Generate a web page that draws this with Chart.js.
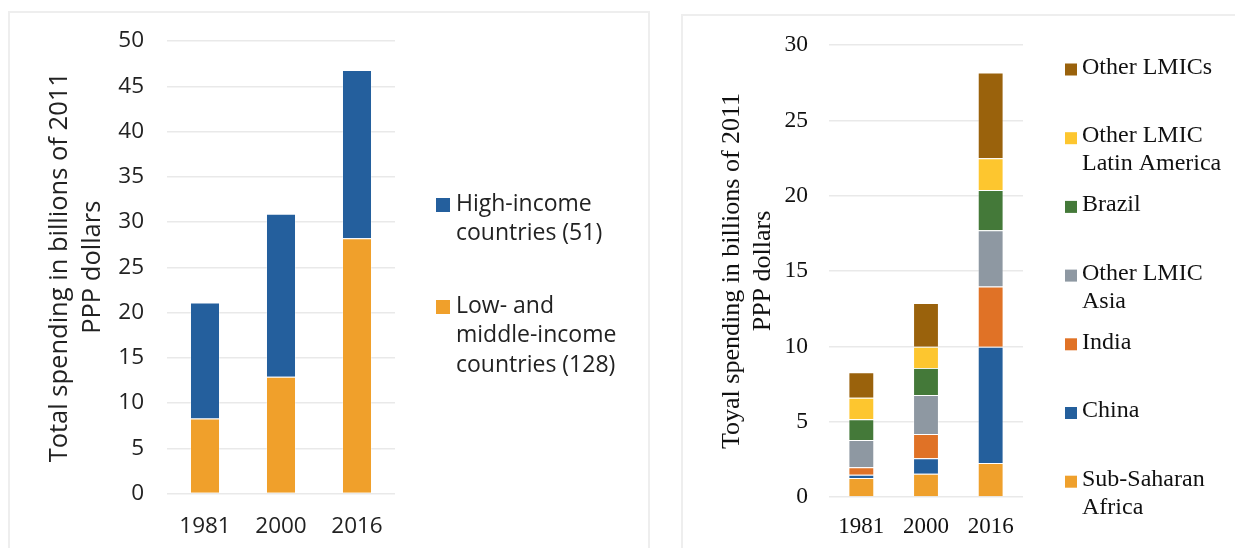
<!DOCTYPE html>
<html>
<head>
<meta charset="utf-8">
<script src="https://cdn.jsdelivr.net/npm/chart.js@4.4.1/dist/chart.umd.min.js"></script>
<style>
  html, body { margin: 0; padding: 0; background: #ffffff; }
  body { width: 1235px; height: 548px; position: relative; overflow: hidden; }
  .panel { position: absolute; border: 2px solid #eeeeee; border-bottom: none; box-sizing: border-box; }
  #panelLeft { left: 8px; top: 11px; width: 642px; height: 560px; }
  #panelRight { left: 681px; top: 14px; width: 600px; height: 560px; }
  canvas { position: absolute; top: 0; }
  #incomeChart { left: 0; }
  #regionChart { left: 680px; }
</style>
</head>
<body>
<div class="panel" id="panelLeft"></div>
<div class="panel" id="panelRight"></div>
<canvas id="incomeChart" width="660" height="548"></canvas>
<canvas id="regionChart" width="555" height="548"></canvas>
<script>
// Survey years shared by both panels
const years = ['1981', '2000', '2016'];

// Left panel: total spending by income group (billions of 2011 PPP dollars)
const lmicTotal = [8.3, 12.9, 28.2];
const highIncome = [12.8, 18.0, 18.6];
const incomeTicks = [0, 5, 10, 15, 20, 25, 30, 35, 40, 45, 50];

// Right panel: spending within low- and middle-income countries
const subSaharanAfrica = [1.26, 1.55, 2.26];
const china = [0.22, 1.02, 7.72];
const india = [0.49, 1.61, 3.99];
const otherAsia = [1.82, 2.59, 3.74];
const brazil = [1.37, 1.80, 2.66];
const otherLatinAmerica = [1.42, 1.41, 2.12];
const otherLmics = [1.70, 2.90, 5.69];
const regionTicks = [0, 5, 10, 15, 20, 25, 30];

// Legend drawn beside the plot: one square per series, newest series on top
const sideLegend = {
  id: 'sideLegend',
  afterDraw(chart, args, opts) {
    const ctx = chart.ctx;
    const items = chart.data.datasets.slice().reverse();
    ctx.save();
    ctx.font = opts.font;
    ctx.textBaseline = 'middle';
    ctx.textAlign = 'left';
    items.forEach((d, i) => {
      const y = opts.rows[i];
      ctx.fillStyle = d.backgroundColor;
      ctx.fillRect(opts.boxX, y - opts.box / 2 + opts.boxShift, opts.box, opts.box);
      ctx.fillStyle = opts.color;
      d.label.split('\n').forEach((line, j) => {
        ctx.fillText(line, opts.textX, y + j * opts.lineHeight);
      });
    });
    ctx.restore();
  }
};

function fixedWidth(w) { return scale => { scale.width = w; }; }
function fixedHeight(h) { return scale => { scale.height = h; }; }

// ---------- Left chart ----------
const sansFamily = '"Open Sans", "Noto Sans", sans-serif';
new Chart(document.getElementById('incomeChart'), {
  type: 'bar',
  data: {
    labels: years,
    datasets: [
      { label: 'Low- and\nmiddle-income\ncountries (128)', data: lmicTotal,
        backgroundColor: '#F0A02B', borderColor: 'rgba(255,255,255,0.35)', borderWidth: 1 },
      { label: 'High-income\ncountries (51)', data: highIncome,
        backgroundColor: '#245F9D', borderColor: 'rgba(255,255,255,0.35)', borderWidth: 1 }
    ]
  },
  options: {
    responsive: false,
    animation: false,
    devicePixelRatio: 1,
    layout: { padding: { left: 43.5, top: 41, right: 265, bottom: 0 } },
    datasets: { bar: { barPercentage: 0.395, categoryPercentage: 1 } },
    plugins: {
      legend: { display: false },
      tooltip: { enabled: false },
      sideLegend: {
        font: '23px ' + sansFamily, color: '#222222',
        rows: [204, 306], lineHeight: 29.5,
        boxX: 436, box: 14, boxShift: 1, textX: 456
      }
    },
    scales: {
      x: {
        stacked: true,
        grid: { display: false },
        border: { display: false },
        ticks: { color: '#222222', padding: 12, font: { family: sansFamily, size: 22.5 } },
        afterFit: fixedHeight(54.5)
      },
      y: {
        stacked: true,
        min: 0, max: 50,
        afterBuildTicks: scale => { scale.ticks = incomeTicks.map(v => ({ value: v })); },
        grid: { color: '#e9e9e9', lineWidth: 1.5, drawTicks: false },
        border: { display: false },
        ticks: { color: '#222222', padding: 23, font: { family: sansFamily, size: 22.5 } },
        title: {
          display: true,
          text: ['Total spending in billions of 2011', 'PPP dollars'],
          color: '#222222',
          padding: 0,
          font: { family: sansFamily, size: 25.5, lineHeight: '33px' }
        },
        afterFit: fixedWidth(123.5)
      }
    }
  },
  plugins: [sideLegend]
});

// ---------- Right chart ----------
const serifFamily = '"Liberation Serif", "Times New Roman", serif';
new Chart(document.getElementById('regionChart'), {
  type: 'bar',
  data: {
    labels: years,
    datasets: [
      { label: 'Sub-Saharan\nAfrica', data: subSaharanAfrica, backgroundColor: '#EFA02C' },
      { label: 'China', data: china, backgroundColor: '#245F9C' },
      { label: 'India', data: india, backgroundColor: '#E07226' },
      { label: 'Other LMIC\nAsia', data: otherAsia, backgroundColor: '#8E98A2' },
      { label: 'Brazil', data: brazil, backgroundColor: '#447939' },
      { label: 'Other LMIC\nLatin America', data: otherLatinAmerica, backgroundColor: '#FDC62F' },
      { label: 'Other LMICs', data: otherLmics, backgroundColor: '#9A620C' }
    ].map(d => Object.assign(d, { borderColor: 'rgba(255,255,255,0.35)', borderWidth: 1 }))
  },
  options: {
    responsive: false,
    animation: false,
    devicePixelRatio: 1,
    layout: { padding: { left: 36.4, top: 45, right: 212, bottom: 0 } },
    datasets: { bar: { barPercentage: 0.40, categoryPercentage: 1 } },
    plugins: {
      legend: { display: false },
      tooltip: { enabled: false },
      sideLegend: {
        font: '24px ' + serifFamily, color: '#111111',
        rows: [67.5, 136.2, 204.9, 273.6, 342.3, 411, 479.7], lineHeight: 28,
        boxX: 385, box: 12, boxShift: 2, textX: 402
      }
    },
    scales: {
      x: {
        stacked: true,
        grid: { display: false },
        border: { display: false },
        ticks: { color: '#111111', padding: 8, font: { family: serifFamily, size: 23 } },
        afterFit: fixedHeight(51)
      },
      y: {
        stacked: true,
        min: 0, max: 30,
        afterBuildTicks: scale => { scale.ticks = regionTicks.map(v => ({ value: v })); },
        grid: { color: '#e9e9e9', lineWidth: 1.5, drawTicks: false },
        border: { display: false },
        ticks: { color: '#111111', padding: 21, font: { family: serifFamily, size: 23.5 } },
        title: {
          display: true,
          text: ['Toyal spending in billions of 2011', 'PPP dollars'],
          color: '#111111',
          padding: 0,
          font: { family: serifFamily, size: 26, lineHeight: '31px' }
        },
        afterFit: fixedWidth(112.6)
      }
    }
  },
  plugins: [sideLegend]
});
</script>
</body>
</html>
